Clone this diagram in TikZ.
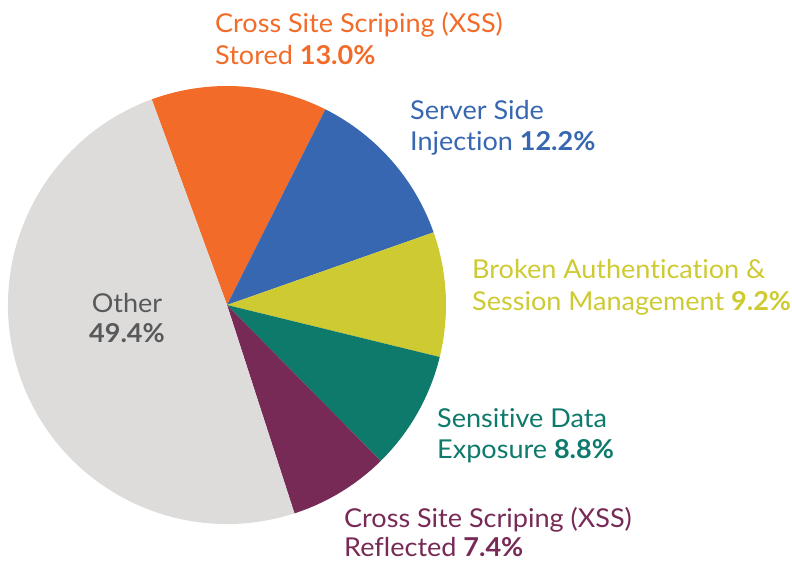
\documentclass[tikz,border=0pt]{standalone}
\usepackage{fontspec}
\setmainfont[Ligatures={NoCommon,NoRare,NoContextual}, FakeStretch=1.04]{Lato}
\definecolor{cOrange}{HTML}{F26B29}
\definecolor{cBlue}{HTML}{3767B1}
\definecolor{cYellow}{HTML}{CDCA32}
\definecolor{cTeal}{HTML}{0E7A6B}
\definecolor{cPurple}{HTML}{772A56}
\definecolor{cGrey}{HTML}{DDDCDA}
\definecolor{cText}{HTML}{58595B}
\tikzset{
  lbl/.style={anchor=base west, inner sep=0pt, font=\fontsize{26}{32}\selectfont},
  lblc/.style={anchor=base, inner sep=0pt, font=\fontsize{26}{32}\selectfont},
}
\newcommand{\pieR}{219}
\newcommand{\pieslice}[3]{\fill[#1] (c) -- ++(#2:\pieR) arc[start angle=#2, end angle=#3, radius=\pieR] -- cycle;}
\begin{document}
\begin{tikzpicture}[x=1pt,y=1pt]
\useasboundingbox (0,0) rectangle (792,560);
\coordinate (c) at (227,255);
\pieslice{cOrange}{110.1}{63.3}
\pieslice{cBlue}{63.3}{19.38}
\pieslice{cYellow}{19.38}{-13.74}
\pieslice{cTeal}{-13.74}{-45.42}
\pieslice{cPurple}{-45.42}{-72.06}
\pieslice{cGrey}{-72.06}{-249.9}
\node[lbl, text=cOrange] (xa) at (215,527) {Cross Site Scriping (XSS)};
\node[lbl, text=cOrange] (xb) at (215,495) {Stored \textbf{13.0\%}};
\node[lbl, text=cBlue] (sa) at (410,440) {Server Side};
\node[lbl, text=cBlue] (sb) at (410,409) {Injection \textbf{12.2\%}};
\node[lbl, text=cYellow] (ba) at (472,281) {Broken Authent\kern0pt ication \&};
\node[lbl, text=cYellow] (bb) at (472,249) {Session Management \textbf{9.2\%}};
\node[lbl, text=cTeal] (da) at (437,133) {Sensit\kern0pt ive Data};
\node[lbl, text=cTeal] (db) at (437,102) {Exposure \textbf{8.8\%}};
\node[lbl, text=cPurple] (ra) at (344,33) {Cross Site Scriping (XSS)};
\node[lbl, text=cPurple] (rb) at (344,4) {Reflected \textbf{7.4\%}};
\node[lblc, text=cText] (oa) at (127,247) {Other};
\node[lblc, text=cText] (ob) at (127,217) {\textbf{49.4\%}};
\end{tikzpicture}
\end{document}
